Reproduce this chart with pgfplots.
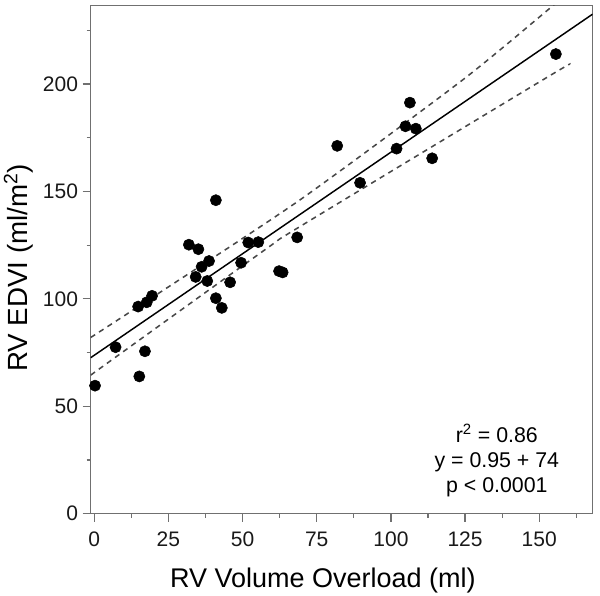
\documentclass[border=0pt]{standalone}
\usepackage{pgfplots}
\pgfplotsset{compat=1.18}
\usepackage{fontspec}
\setmainfont{Liberation Sans}
\definecolor{axisgray}{HTML}{707070}
\definecolor{dashgray}{HTML}{484848}
\begin{document}
\begin{tikzpicture}
\useasboundingbox (-68pt,-61.7pt) rectangle (382pt,385.3pt);
\begin{axis}[
  at={(0,0)}, anchor=south west, scale only axis,
  width=376.5pt, height=381pt,
  xmin=-1.2, xmax=168, ymin=0, ymax=236.4,
  xtick={0,25,...,150}, minor xtick={12.5,37.5,...,162.5},
  ytick={0,50,...,200}, minor ytick={25,75,...,225},
  tick align=outside, tick pos=left,
  major tick length=6pt, minor tick length=3pt,
  axis line style={draw=axisgray, line width=1pt},
  tick style={draw=axisgray, line width=0.9pt},
  ticklabel style={font=\fontsize{15.75}{18}\selectfont, text=black!90},
  xticklabel style={yshift=-4pt},
  /pgf/number format/assume math mode=true,
  every axis x label/.style={at={([yshift=-55.5pt]axis description cs:0.4627,0)}, anchor=base, font=\fontsize{20.25}{24}\selectfont},
  every axis y label/.style={at={([xshift=-47.5pt]axis description cs:0,0.484)}, anchor=base, rotate=90, font=\fontsize{20.8}{24}\selectfont},
  xlabel={RV Volume Overload (ml)},
  ylabel={RV EDVI (ml/m\textsuperscript{2})},
  clip=true,
]
\addplot[dashgray, line width=1.15pt, dash pattern=on 4pt off 3.5pt, smooth, tension=0.4]
  coordinates {(-1.2,82) (19.4,100.5) (69.3,146) (124.3,202) (154.6,236.4) (160,242.5)};
\addplot[dashgray, line width=1.15pt, dash pattern=on 4pt off 3.5pt, smooth, tension=0.4]
  coordinates {(-1.2,64.5) (57.5,122.8) (69.3,133.6) (151.2,201.9) (160.3,209.2)};
\addplot[black, line width=1.1pt] coordinates {(-1.2,72.6) (168,232.5)};
\addplot[only marks, mark=*, mark size=4.2pt, black] coordinates {
  (0.27,59.6) (7.2,77.5) (15.2,63.9) (17.1,75.6) (14.8,96.4) (17.7,98.4)
  (19.5,101.4) (31.9,125.2) (35.1,123.1) (36.2,114.9) (38.7,117.6)
  (34.2,110.2) (38.1,108.3) (41.0,145.9) (41.0,100.3) (43.0,95.8)
  (45.8,107.7) (49.5,116.8) (51.9,126.2) (55.3,126.4) (62.3,112.9)
  (63.5,112.3) (68.4,128.6) (81.9,171.2) (89.6,154.0) (101.9,169.9)
  (104.9,180.3) (106.4,191.3) (108.4,179.2) (113.9,165.4) (155.6,213.9)
};
\node[anchor=base, font=\fontsize{16}{19}\selectfont] at (axis cs:135.7,33.2) {r\textsuperscript{2} = 0.86};
\node[anchor=base, font=\fontsize{16}{19}\selectfont] at (axis cs:135.7,21.4) {y = 0.95 + 74};
\node[anchor=base, font=\fontsize{16}{19}\selectfont] at (axis cs:135.7,9.8) {p < 0.0001};
\end{axis}
\end{tikzpicture}
\end{document}
